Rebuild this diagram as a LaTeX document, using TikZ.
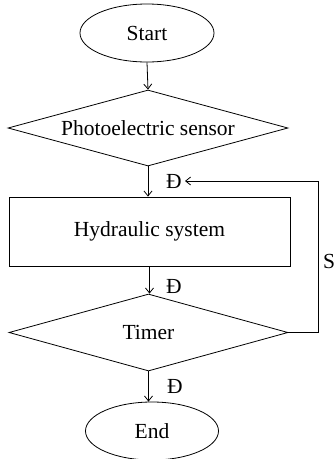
\documentclass[tikz,border=0pt]{standalone}
\usepackage{fontspec}
\setmainfont{Liberation Serif}
\usetikzlibrary{shapes.geometric,arrows.meta}
\begin{document}
\begin{tikzpicture}[x=1pt,y=-1pt,
  font=\fontsize{21.5}{25}\selectfont,
  line width=0.8pt,
  term/.style={ellipse,draw,inner sep=0pt,minimum width=134pt,minimum height=58pt},
  decis/.style={diamond,draw,inner sep=0pt},
  proc/.style={rectangle,draw,inner sep=0pt,minimum width=281pt,minimum height=69pt},
  arr/.style={-{Straight Barb[length=5pt,width=8pt]}},
  lab/.style={inner sep=0pt}]
\useasboundingbox (0,0) rectangle (336,459);
\node[term] (start) at (147,33) {Start};
\node[decis,minimum width=280pt,minimum height=76pt,label=center:{Photoelectric sensor}] (sensor) at (148,128) {};
\node[proc] (hyd) at (149.5,231.5) {Hydraulic system};
\node[decis,minimum width=279pt,minimum height=77pt,label=center:{Timer}] (timer) at (148.5,332.5) {};
\node[term,minimum width=133pt] (end) at (152,431) {End};
\coordinate (fbin) at (185,181);
\coordinate (fbcorner) at (318,181);
\draw[arr] (start.south) -- (sensor.north);
\draw[arr] (sensor.south) -- (hyd.north -| sensor.south);
\draw[arr] (hyd.south) -- (timer.north -| hyd.south);
\draw[arr] (timer.south) -- (end.north -| timer.south);
\draw[arr] (timer.east) -| (fbcorner) -- (fbin);
\node[lab] (d1) at (174,181) {Đ};
\node[lab] (d2) at (174,286) {Đ};
\node[lab] (d3) at (175,386) {Đ};
\node[lab,anchor=east] (s) at (335.5,261) {S};
\end{tikzpicture}
\end{document}
